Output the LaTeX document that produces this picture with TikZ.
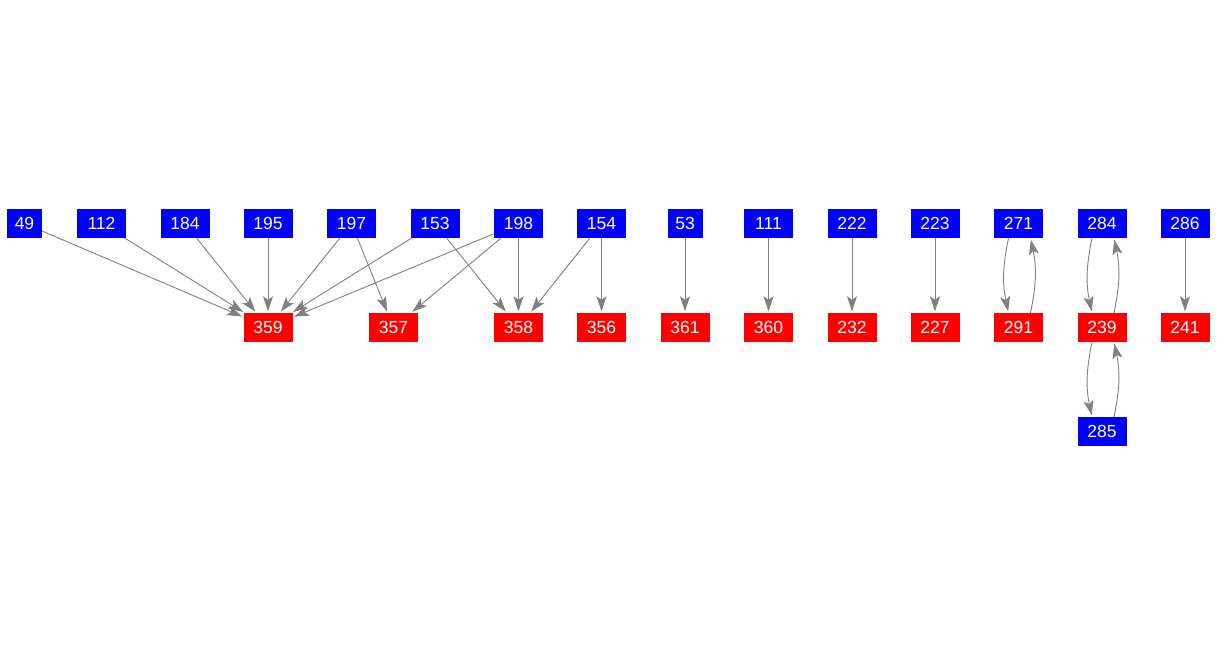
\documentclass[tikz,border=0pt]{standalone}
\usepackage{fontspec}
\setmainfont{Liberation Sans}
\usetikzlibrary{arrows.meta}
\begin{document}
\begin{tikzpicture}[x=1pt,y=-1pt,
  box/.style={inner sep=0pt, minimum height=29pt, minimum width=49pt, text=white, font=\fontsize{17.5}{17.5}\selectfont},
  src/.style={box, fill={rgb,255:red,0;green,0;blue,255}},
  dst/.style={box, fill={rgb,255:red,255;green,0;blue,0}},
  narrow/.style={minimum width=35pt},
  edge/.style={draw={rgb,255:red,128;green,128;blue,128}, line width=0.9pt, shorten >=1.5pt, -{Stealth[length=15pt,width=10pt,inset=3.5pt]}}
]
\useasboundingbox (0,0) rectangle (1218,656);
% top row
\node[src,narrow] (n49) at (24.5,223.5) {49};
\node[src] (n112) at (101.5,223.5) {112};
\node[src] (n184) at (185,223.5) {184};
\node[src] (n195) at (268,223.5) {195};
\node[src] (n197) at (351.5,223.5) {197};
\node[src] (n153) at (435,223.5) {153};
\node[src] (n198) at (518.5,223.5) {198};
\node[src] (n154) at (601.5,223.5) {154};
\node[src,narrow] (n53) at (685,223.5) {53};
\node[src] (n111) at (768.5,223.5) {111};
\node[src] (n222) at (852,223.5) {222};
\node[src] (n223) at (935,223.5) {223};
\node[src] (n271) at (1018.5,223.5) {271};
\node[src] (n284) at (1102,223.5) {284};
\node[src] (n286) at (1185,223.5) {286};
% bottom row
\node[dst] (n359) at (268,327.5) {359};
\node[dst] (n357) at (393.5,327.5) {357};
\node[dst] (n358) at (518.5,327.5) {358};
\node[dst] (n356) at (601.5,327.5) {356};
\node[dst] (n361) at (685,327.5) {361};
\node[dst] (n360) at (768.5,327.5) {360};
\node[dst] (n232) at (852,327.5) {232};
\node[dst] (n227) at (935,327.5) {227};
\node[dst] (n291) at (1018.5,327.5) {291};
\node[dst] (n239) at (1102,327.5) {239};
\node[dst] (n241) at (1185,327.5) {241};
\node[src] (n285) at (1102,431.5) {285};
% edges
\draw[edge] (n49) -- (n359);
\draw[edge] (n112) -- (n359);
\draw[edge] (n184) -- (n359);
\draw[edge] (n195) -- (n359);
\draw[edge] (n197) -- (n359);
\draw[edge] (n197) -- (n357);
\draw[edge] (n153) -- (n359);
\draw[edge] (n153) -- (n358);
\draw[edge] (n198) -- (n359);
\draw[edge] (n198) -- (n357);
\draw[edge] (n198) -- (n358);
\draw[edge] (n154) -- (n358);
\draw[edge] (n154) -- (n356);
\draw[edge] (n53) -- (n361);
\draw[edge] (n111) -- (n360);
\draw[edge] (n222) -- (n232);
\draw[edge] (n223) -- (n227);
\draw[edge] (n286) -- (n241);
\draw[edge] ([xshift=-10pt]n271.south) to[bend right=12] ([xshift=-10pt]n291.north);
\draw[edge] ([xshift=12pt]n291.north) to[bend right=12] ([xshift=12pt]n271.south);
\draw[edge] ([xshift=-10pt]n284.south) to[bend right=12] ([xshift=-10pt]n239.north);
\draw[edge] ([xshift=12pt]n239.north) to[bend right=12] ([xshift=12pt]n284.south);
\draw[edge] ([xshift=-10pt]n239.south) to[bend right=12] ([xshift=-10pt]n285.north);
\draw[edge] ([xshift=12pt]n285.north) to[bend right=12] ([xshift=12pt]n239.south);
\end{tikzpicture}
\end{document}
